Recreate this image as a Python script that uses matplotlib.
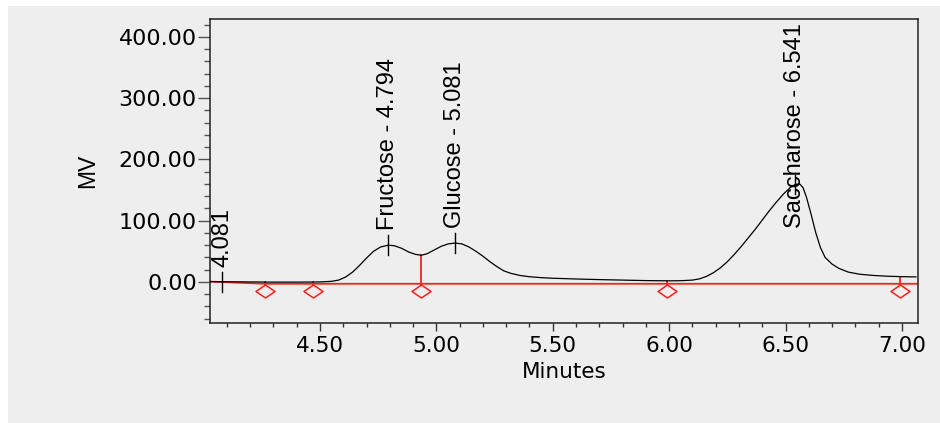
import numpy as np
import matplotlib
matplotlib.use("Agg")
import matplotlib.pyplot as plt
from matplotlib import font_manager
from matplotlib.path import Path
from matplotlib.patches import Rectangle
from matplotlib.ticker import MultipleLocator, FormatStrFormatter

# ---------------- data ----------------
time_min = [4.03, 4.10, 4.20, 4.30, 4.40, 4.50, 4.55, 4.58, 4.61, 4.64, 4.67, 4.70,
            4.73, 4.76, 4.794, 4.82, 4.85, 4.88, 4.91, 4.935, 4.96, 4.99, 5.02,
            5.05, 5.081, 5.11, 5.14, 5.17, 5.20, 5.23, 5.26, 5.29, 5.32, 5.36,
            5.40, 5.45, 5.50, 5.60, 5.70, 5.80, 5.90, 6.00, 6.05, 6.10, 6.13,
            6.16, 6.19, 6.22, 6.25, 6.28, 6.31, 6.34, 6.37, 6.40, 6.43, 6.46,
            6.49, 6.52, 6.541, 6.56, 6.575, 6.59, 6.61, 6.63, 6.65, 6.67, 6.70,
            6.73, 6.77, 6.82, 6.88, 6.94, 7.00, 7.06]
signal_mv = [0.5, 0.3, 0.0, -0.3, -0.3, 0.0, 1.0, 3.0, 8.0, 16.0, 27.0, 39.0,
             50.0, 57.0, 60.0, 59.0, 55.0, 49.0, 45.0, 43.5, 46.0, 52.0, 58.0,
             62.0, 63.5, 62.0, 57.0, 50.0, 42.0, 33.0, 25.0, 18.0, 14.0, 10.5,
             8.5, 7.0, 6.0, 4.8, 3.8, 3.0, 2.2, 1.8, 2.0, 3.0, 5.0,
             9.0, 15.0, 23.0, 33.0, 45.0, 58.0, 72.0, 86.0, 101.0, 116.0, 130.0,
             143.0, 154.0, 159.0, 160.0, 154.0, 138.0, 110.0, 80.0, 56.0, 40.0, 29.0,
             22.0, 16.0, 12.5, 10.5, 9.3, 8.6, 8.2]

peak_names = ["", "Fructose", "Glucose", "Saccharose"]
peak_times = [4.081, 4.794, 5.081, 6.541]

event_times = [4.265, 4.47, 4.935, 5.99, 6.99]
baseline_t = [4.03, 4.265, 7.07]
baseline_mv = [0.5, -3.0, -3.0]

x_ticks = [4.50, 5.00, 5.50, 6.00, 6.50, 7.00]
y_ticks = [0, 100, 200, 300, 400]

# ---------------- fonts ----------------
names = set(font_manager.get_font_names())
label_font = "Liberation Sans Narrow" if "Liberation Sans Narrow" in names else "Liberation Sans"
label_size = 20.5 if label_font.endswith("Narrow") else 17
tick_font = "DejaVu Sans"

BG = "#EEEEEE"
RED = "#FF1E1E"

fig = plt.figure(figsize=(9.4, 4.23), dpi=100)
fig.patch.set_facecolor("white")
fig.patches.append(Rectangle((8 / 940, 0), 1, (423 - 6) / 423, transform=fig.transFigure,
                             facecolor=BG, edgecolor="none", zorder=-10))

ax = fig.add_axes([210 / 940, (423 - 323) / 423, 708 / 940, 304 / 423])
ax.set_facecolor(BG)
ax.set_xlim(4.0275, 7.069)
ax.set_ylim(-67, 429)

# chromatogram
ax.plot(time_min, signal_mv, color="black", lw=0.9, zorder=3)

# baseline
ax.plot(baseline_t, baseline_mv, color=RED, lw=1.3, zorder=2)

# events: drop lines and diamonds
ev_vals = np.interp(event_times, time_min, signal_mv)
for t, v in zip(event_times, ev_vals):
    ax.plot([t, t], [-5, max(v, -3)], color=RED, lw=1.3, zorder=2)
diamond = Path([(-1, 0), (0, 0.68), (1, 0), (0, -0.68), (-1, 0)],
               [Path.MOVETO, Path.LINETO, Path.LINETO, Path.LINETO, Path.CLOSEPOLY])
ax.plot(event_times, [-15] * len(event_times), linestyle="none", marker=diamond,
        markersize=13.7, markerfacecolor="none", markeredgecolor=RED, markeredgewidth=1.1,
        zorder=4)

# peak marks and labels
peak_vals = np.interp(peak_times, time_min, signal_mv)
labels = []
for name, t, v in zip(peak_names, peak_times, peak_vals):
    ax.plot([t, t], [v - 16, v + 16], color="black", lw=1.0, zorder=4)
    txt = f"{name} - {t:.3f}" if name else f"{t:.3f}"
    lab = ax.text(t, v + 24, txt, rotation=90, ha="center", va="bottom",
                  fontsize=label_size, family=label_font, color="black", zorder=5)
    labels.append(lab)

# axes styling
for s in ax.spines.values():
    s.set_color("#222222")
    s.set_linewidth(1.1)

ax.xaxis.set_major_locator(plt.FixedLocator(x_ticks))
ax.xaxis.set_minor_locator(MultipleLocator(0.1))
ax.yaxis.set_major_locator(plt.FixedLocator(y_ticks))
ax.yaxis.set_minor_locator(MultipleLocator(20))
ax.xaxis.set_major_formatter(FormatStrFormatter("%.2f"))
ax.yaxis.set_major_formatter(FormatStrFormatter("%.2f"))

ax.tick_params(axis="x", which="major", length=5.5, width=1.0, color="#333333",
               labelsize=15.5, pad=3.5)
ax.tick_params(axis="x", which="minor", length=3.2, width=1.0, color="#333333")
ax.tick_params(axis="y", which="major", length=8.5, width=1.0, color="#555555",
               labelsize=16, pad=1)
ax.tick_params(axis="y", which="minor", length=4.3, width=1.0, color="#555555")
for lbl in ax.get_xticklabels() + ax.get_yticklabels():
    lbl.set_family(tick_font)

ax.set_xlabel("Minutes", fontsize=15.5, family=tick_font, labelpad=5)
ax.set_ylabel("MV", fontsize=16.5, family=label_font, labelpad=14)

# keep tall labels inside the plot area
fig.canvas.draw()
renderer = fig.canvas.get_renderer()
ax_bb = ax.get_window_extent(renderer)
for lab in labels:
    bb = lab.get_window_extent(renderer)
    if bb.y1 > ax_bb.y1 - 3:
        y_top = ax.transData.inverted().transform((0, ax_bb.y1 - 4))[1]
        lab.set_y(y_top)
        lab.set_va("top")

fig.savefig("out.png", dpi=100, facecolor=fig.get_facecolor())
